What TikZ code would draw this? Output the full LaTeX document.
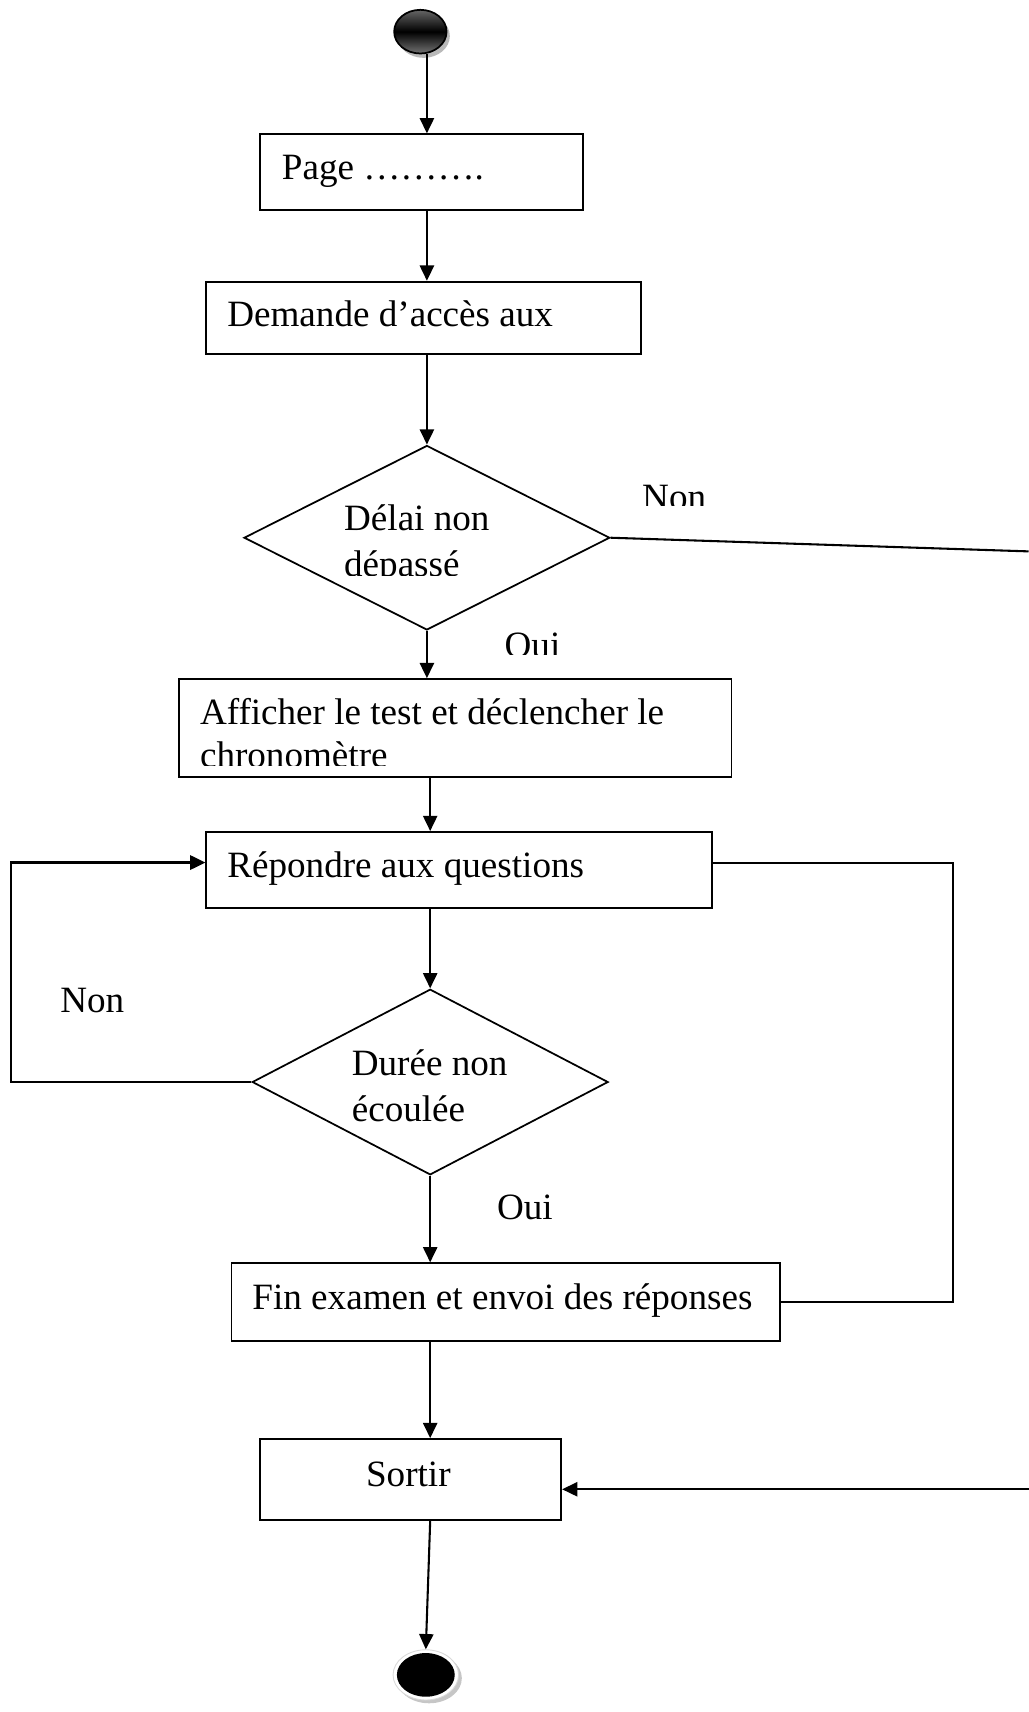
\documentclass[tikz,border=0pt]{standalone}
\usepackage{fontspec}
\setmainfont{Liberation Serif}
\usetikzlibrary{arrows.meta,shapes.geometric,calc}
\begin{document}
\begin{tikzpicture}[x=1pt,y=-1pt,
  box/.style={draw,line width=1.7pt,inner sep=0pt,rectangle},
  decision/.style={draw,line width=1.6pt,inner sep=0pt,diamond},
  txt/.style={font=\fontsize{34}{39}\selectfont,inner sep=0pt,anchor=base west},
  link/.style={line width=1.9pt},
  arr/.style={line width=1.9pt,-{Triangle[length=14pt,width=13pt]}}
]
\useasboundingbox (0,0) rectangle (942,1568);

% start node with its shadow
\fill[gray!55] (388,33) ellipse [x radius=24pt,y radius=20pt];
\node[ellipse,draw=black,line width=1.6pt,minimum width=48pt,minimum height=40pt,
      inner sep=0pt,top color=gray!80!black,bottom color=gray!90!black,middle color=black]
      (start) at (385,29) {};

% activity boxes
\node[box,minimum width=296pt,minimum height=69pt] (page) at (386,157.5) {};
\node[box,minimum width=398pt,minimum height=66pt] (dem)  at (388,291) {};
\node[decision,minimum width=335pt,minimum height=169pt] (d1) at (391,492.5) {};
\node[box,minimum width=506pt,minimum height=90pt] (aff)  at (417,667) {};
\node[box,minimum width=463pt,minimum height=70pt] (rep)  at (420.5,797) {};
\node[decision,minimum width=326pt,minimum height=170pt] (d2) at (394,991) {};
\node[box,minimum width=502pt,minimum height=71pt] (fin)  at (463,1192.5) {};
\node[box,minimum width=276pt,minimum height=74pt] (sortir) at (376,1355) {};

% end node: black disc in a white ring with a soft shadow
\fill[gray!45] (393,1537) ellipse [x radius=30pt,y radius=23pt];
\node[ellipse,draw=gray!30,fill=white,line width=0.8pt,minimum width=60pt,minimum height=46pt,
      inner sep=0pt] (endring) at (390,1534) {};
\node[ellipse,fill=black,minimum width=53pt,minimum height=40pt,inner sep=0pt] (end) at (390,1534) {};

% texts
\node[txt] (tpage) at (258,164) {Page ………. };
\node[txt] (tdem) at (208,299) {Demande d’accès aux};
\node[txt] (td1a) at (315,486) {Délai non};
\begin{scope}
  \clip (300,500) rectangle (460,527);
  \node[txt] (td1b) at (315,528) {dépassé};
\end{scope}
\begin{scope}
  \clip (580,430) rectangle (660,463);
  \node[txt] (tnon1) at (588,467) {Non};
\end{scope}
\begin{scope}
  \clip (455,565) rectangle (520,599);
  \node[txt] (toui1) at (462,602) {Oui};
\end{scope}
\node[txt] (taff) at (183,664) {Afficher le test et déclencher le};
\begin{scope}
  \clip (170,675) rectangle (400,701);
  \node[txt] (taff2) at (183,703) {chronomètre};
\end{scope}
\node[txt] (trep) at (208,804) {Répondre aux questions};
\node[txt] (tnon2) at (55,927) {Non};
\node[txt] (td2a) at (322,985) {Durée non};
\node[txt] (td2b) at (322,1027) {écoulée};
\node[txt] (toui2) at (455,1117) {Oui};
\node[txt] (tfin) at (231,1199) {Fin examen et envoi des réponses};
\node[txt,anchor=base] (tsortir) at (374,1361) {Sortir};

% free ends of the connectors leaving the sheet
\coordinate (sp) at (391,0);
\coordinate (outA) at (942,505);
\coordinate (outB) at (942,1364);
\coordinate (loopL) at (10,991);
\coordinate (loopR) at (873,790);

% main flow
\draw[arr] (start.south -| sp) -- (page.north -| sp);
\draw[arr] (page.south -| sp) -- (dem.north -| sp);
\draw[arr] (dem.south -| sp) -- (d1.north);
\draw[arr] (d1.south) -- (aff.north -| d1.south);
\draw[arr] (aff.south -| d2.north) -- (rep.north -| d2.north);
\draw[arr] (rep.south -| d2.north) -- (d2.north);
\draw[arr] (d2.south) -- (fin.north -| d2.south);
\draw[arr] (fin.south -| d2.south) -- (sortir.north -| d2.south);
\draw[arr] (sortir.south -| d2.south) -- (endring.north);

% branches
\draw[link] (d1.east) -- (outA);
\draw[arr] (outB) -- (sortir.east |- outB);
\draw[line width=2.4pt,-{Triangle[length=14pt,width=13pt]}]
  (d2.west) -- (loopL) |- (rep.west |- loopR);
\draw[link] (rep.east |- loopR) -- (loopR) |- (fin.east);
\end{tikzpicture}
\end{document}
